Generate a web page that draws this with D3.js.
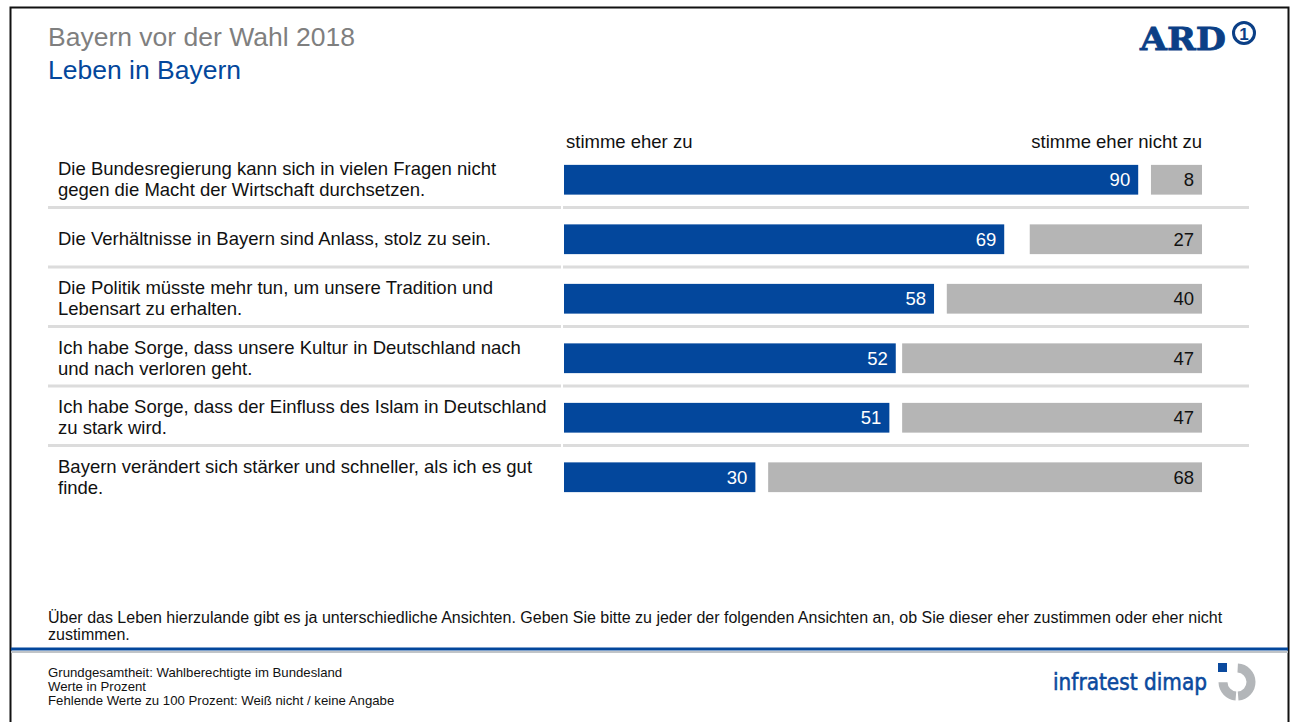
<!DOCTYPE html>
<html>
<head>
<meta charset="utf-8">
<script src="https://cdn.jsdelivr.net/npm/d3@7"></script>
<style>
    body { margin: 0; background: #fff; }
    svg { display: block; font-family: "Liberation Sans", Arial, sans-serif; }
</style>
</head>
<body>
<svg id="chart" width="1291" height="722"></svg>
<script>
// Statements (label lines)
const statements = [
    ["Die Bundesregierung kann sich in vielen Fragen nicht", "gegen die Macht der Wirtschaft durchsetzen."],
    ["Die Verhältnisse in Bayern sind Anlass, stolz zu sein."],
    ["Die Politik müsste mehr tun, um unsere Tradition und", "Lebensart zu erhalten."],
    ["Ich habe Sorge, dass unsere Kultur in Deutschland nach", "und nach verloren geht."],
    ["Ich habe Sorge, dass der Einfluss des Islam in Deutschland", "zu stark wird."],
    ["Bayern verändert sich stärker und schneller, als ich es gut", "finde."]
];
const agree = [90, 69, 58, 52, 51, 30];
const disagree = [8, 27, 40, 47, 47, 68];
const seriesNames = ["stimme eher zu", "stimme eher nicht zu"];

const questionLines = [
    "Über das Leben hierzulande gibt es ja unterschiedliche Ansichten. Geben Sie bitte zu jeder der folgenden Ansichten an, ob Sie dieser eher zustimmen oder eher nicht",
    "zustimmen."
];
const footLines = [
    "Grundgesamtheit: Wahlberechtigte im Bundesland",
    "Werte in Prozent",
    "Fehlende Werte zu 100 Prozent: Weiß nicht / keine Angabe"
];

const svg = d3.select("#chart");
const blue = "#03479c";
const grey = "#b5b5b5";
const fs = 18.5;

// frame
svg.append("rect")
    .attr("x", 10.5).attr("y", 7.5)
    .attr("width", 1278).attr("height", 720)
    .attr("fill", "none").attr("stroke", "#111").attr("stroke-width", 2);

// titles
svg.append("text").attr("x", 48).attr("y", 46)
    .attr("font-size", 26.5).attr("fill", "#7f7f7f")
    .text("Bayern vor der Wahl 2018");
svg.append("text").attr("x", 48).attr("y", 79)
    .attr("font-size", 26.5).attr("fill", blue)
    .text("Leben in Bayern");

// ARD logo
svg.append("text").attr("x", 1140).attr("y", 50)
    .attr("font-family", "'DejaVu Serif', 'Liberation Serif', serif")
    .attr("font-weight", "bold").attr("font-size", 32)
    .attr("textLength", 86).attr("lengthAdjust", "spacingAndGlyphs")
    .attr("fill", "#0b3f86").attr("stroke", "#0b3f86").attr("stroke-width", 0.8)
    .text("ARD");
svg.append("circle").attr("cx", 1244).attr("cy", 33).attr("r", 10.5)
    .attr("fill", "none").attr("stroke", "#0b3f86").attr("stroke-width", 3);
svg.append("text").attr("x", 1244).attr("y", 40).attr("text-anchor", "middle")
    .attr("font-weight", "bold").attr("font-size", 17).attr("fill", "#0b3f86").text("1");

// scales
const rows = d3.scaleBand()
    .domain(d3.range(statements.length))
    .range([150, 507])
    .paddingInner(0.5)
    .paddingOuter(0.25);
const x = d3.scaleLinear().domain([0, 100]).range([0, 638]);
const barLeft = 564, barRight = 1202;

// series headers
svg.append("text").attr("x", barLeft + 2).attr("y", 148)
    .attr("font-size", fs).attr("fill", "#111").text(seriesNames[0]);
svg.append("text").attr("x", barRight).attr("y", 148).attr("text-anchor", "end")
    .attr("font-size", fs).attr("fill", "#111").text(seriesNames[1]);

// separators
const sepY = d3.range(statements.length - 1).map(i => rows(i) + rows.bandwidth() + (rows.step() - rows.bandwidth()) / 2 - 2);
[[48, 561], [563, 1249]].forEach(([a, b]) => {
    svg.append("g").selectAll("line").data(sepY).enter().append("line")
        .attr("x1", a).attr("x2", b)
        .attr("y1", d => d).attr("y2", d => d)
        .attr("stroke", "#dcdcdc").attr("stroke-width", 3);
});

const row = svg.append("g").selectAll("g")
    .data(statements.map((s, i) => ({ lines: s, yes: agree[i], no: disagree[i], i })))
    .enter().append("g");

// labels
row.append("text")
    .attr("x", 58)
    .attr("font-size", fs).attr("fill", "#111")
    .each(function (d) {
        const cy = rows(d.i) + rows.bandwidth() / 2;
        const top = cy - (d.lines.length - 1) * 10.5 + 6;
        d3.select(this).selectAll("tspan").data(d.lines).enter().append("tspan")
            .attr("x", 58).attr("y", (l, k) => top + k * 21)
            .text(l => l);
    });

// bars
row.append("rect")
    .attr("x", barLeft).attr("y", d => rows(d.i))
    .attr("width", d => x(d.yes)).attr("height", rows.bandwidth())
    .attr("fill", blue);
row.append("rect")
    .attr("x", d => barRight - x(d.no)).attr("y", d => rows(d.i))
    .attr("width", d => x(d.no)).attr("height", rows.bandwidth())
    .attr("fill", grey);

row.append("text")
    .attr("x", d => barLeft + x(d.yes) - 8)
    .attr("y", d => rows(d.i) + rows.bandwidth() / 2 + 6.5)
    .attr("text-anchor", "end").attr("font-size", fs).attr("fill", "#fff")
    .text(d => d.yes);
row.append("text")
    .attr("x", barRight - 8)
    .attr("y", d => rows(d.i) + rows.bandwidth() / 2 + 6.5)
    .attr("text-anchor", "end").attr("font-size", fs).attr("fill", "#111")
    .text(d => d.no);

// question text
svg.append("g").selectAll("text").data(questionLines).enter().append("text")
    .attr("x", 48).attr("y", (d, k) => 623 + k * 17)
    .attr("font-size", 16).attr("fill", "#111").text(d => d);

// bottom rule
svg.append("line").attr("x1", 11).attr("x2", 1288).attr("y1", 649).attr("y2", 649)
    .attr("stroke", blue).attr("stroke-width", 3);
svg.append("line").attr("x1", 11).attr("x2", 1288).attr("y1", 652).attr("y2", 652)
    .attr("stroke", "#c0c4c8").attr("stroke-width", 2);

// footnotes
svg.append("g").selectAll("text").data(footLines).enter().append("text")
    .attr("x", 48).attr("y", (d, k) => 677 + k * 14)
    .attr("font-size", 13.2).attr("fill", "#111").text(d => d);

// infratest dimap logo
svg.append("text").attr("x", 1053).attr("y", 690)
    .attr("font-family", "'DejaVu Sans', sans-serif").attr("font-size", 23)
    .attr("textLength", 154).attr("lengthAdjust", "spacingAndGlyphs")
    .attr("fill", "#0b4a9e").attr("stroke", "#0b4a9e").attr("stroke-width", 0.6)
    .text("infratest dimap");
const ring = d3.arc().innerRadius(9.5).outerRadius(18.5);
const logo = svg.append("g").attr("transform", "translate(1237,682)");
logo.append("path").attr("d", ring({ startAngle: 0.05, endAngle: Math.PI - 0.08 })).attr("fill", "#b3b6b9");
logo.append("path").attr("d", ring({ startAngle: Math.PI + 0.08, endAngle: 1.5 * Math.PI - 0.02 })).attr("fill", "#b3b6b9");
logo.append("rect").attr("x", -19).attr("y", -19).attr("width", 9).attr("height", 9).attr("fill", "#0b4a9e");
</script>
</body>
</html>
